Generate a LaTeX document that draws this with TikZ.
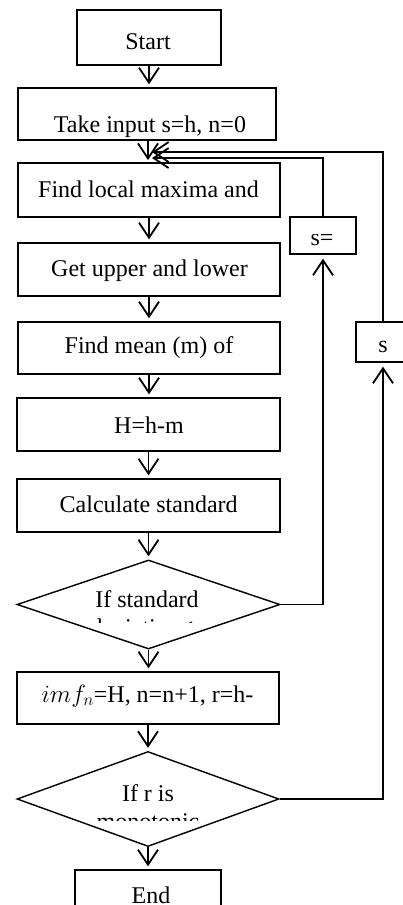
\documentclass[tikz,border=0pt]{standalone}
\usepackage{fontspec}
\setmainfont{Liberation Serif}
\usetikzlibrary{arrows.meta,shapes.geometric}
\begin{document}
\begin{tikzpicture}[x=1pt,y=-1pt,
  box/.style={draw,line width=1.4pt,inner sep=0pt,rectangle},
  dia/.style={draw,line width=1.4pt,inner sep=0pt,diamond},
  txt/.style={font=\fontsize{24}{28}\selectfont,inner sep=0pt,anchor=base},
  arr/.style={line width=1.8pt,-{Straight Barb[length=15pt,width=20pt,line width=1.8pt]},shorten >=3pt},
  link/.style={line width=1.8pt}]
\clip (0,0) rectangle (403,905);
% boxes
\node[box,minimum width=144,minimum height=55] (start) at (149,37.5) {};
\node[box,minimum width=258,minimum height=52] (input) at (147,114) {};
\node[box,minimum width=262,minimum height=54] (local) at (149,190) {};
\node[box,minimum width=262,minimum height=53] (upper) at (149,269.5) {};
\node[box,minimum width=262,minimum height=52] (mean) at (149,348) {};
\node[box,minimum width=263,minimum height=53] (hm) at (148.5,424.5) {};
\node[box,minimum width=263,minimum height=53] (std) at (148.5,505.5) {};
\node[dia,minimum width=263,minimum height=89] (d1) at (148.5,604.5) {};
\node[box,minimum width=262,minimum height=52] (imf) at (148,698) {};
\node[dia,minimum width=262,minimum height=95] (d2) at (148,799) {};
\node[box,minimum width=146,minimum height=55] (end) at (148,897.5) {};
\node[box,minimum width=66,minimum height=37] (seq) at (323,235.5) {};
\node[box,minimum width=54,minimum height=40] (sbox) at (383,342) {};
% texts
\node[txt] (tstart) at (148,49) {Start};
\node[txt] (tinput) at (150,132) {Take input s=h, n=0};
\node[txt] (tlocal) at (148.5,197) {Find local maxima and};
\node[txt] (tupper) at (149.5,276) {Get upper and lower};
\node[txt] (tmean) at (149,353.5) {Find mean (m) of};
\node[txt] (thm) at (149,433) {H=h-m};
\node[txt] (tstd) at (148.7,512) {Calculate standard};
\node[txt] (td1a) at (147,607) {If standard};
\begin{scope}
  \clip (80,612) rectangle (220,622.5);
  \node[txt] (td1b) at (147,635) {deviation<ε};
\end{scope}
\node[txt] (timf) at (147.5,702) {$imf_n$=H, n=n+1, r=h-};
\node[txt] (td2a) at (148,801) {If r is};
\begin{scope}
  \clip (80,808) rectangle (220,820.5);
  \node[txt] (td2b) at (148,829) {monotonic};
\end{scope}
\node[txt] (tend) at (151,903) {End};
\begin{scope}
  \clip (291,234.5) rectangle (355,253);
  \node[txt] (tseq) at (322,245) {s=};
\end{scope}
\node[txt] (ts) at (383,352) {s};
% connectors
\coordinate (fb1) at (152,152);
\coordinate (fb2) at (152,158);
\draw[arr] (start.south) -- (start.south |- input.north);
\draw[arr] (148,140) -- (148,163);
\draw[arr] (local.south) -- (upper.north);
\draw[arr] (upper.south) -- (mean.north);
\draw[arr] (mean.south) -- (mean.south |- hm.north);
\draw[arr] (hm.south) -- (std.north);
\draw[arr] (std.south) -- (d1.north);
\draw[arr] (d1.south) -- (d1.south |- imf.north);
\draw[arr] (imf.south) -- (d2.north);
\draw[arr] (d2.south) -- (end.north);
\draw[arr,shorten >=4pt] (d1.east) -| (seq.south);
\draw[arr,shorten >=4pt] (d2.east) -| (sbox.south);
\draw[arr,shorten >=0pt] (seq.north) |- (fb2);
\draw[arr,shorten >=0pt] (sbox.north) |- (fb1);
\end{tikzpicture}
\end{document}
